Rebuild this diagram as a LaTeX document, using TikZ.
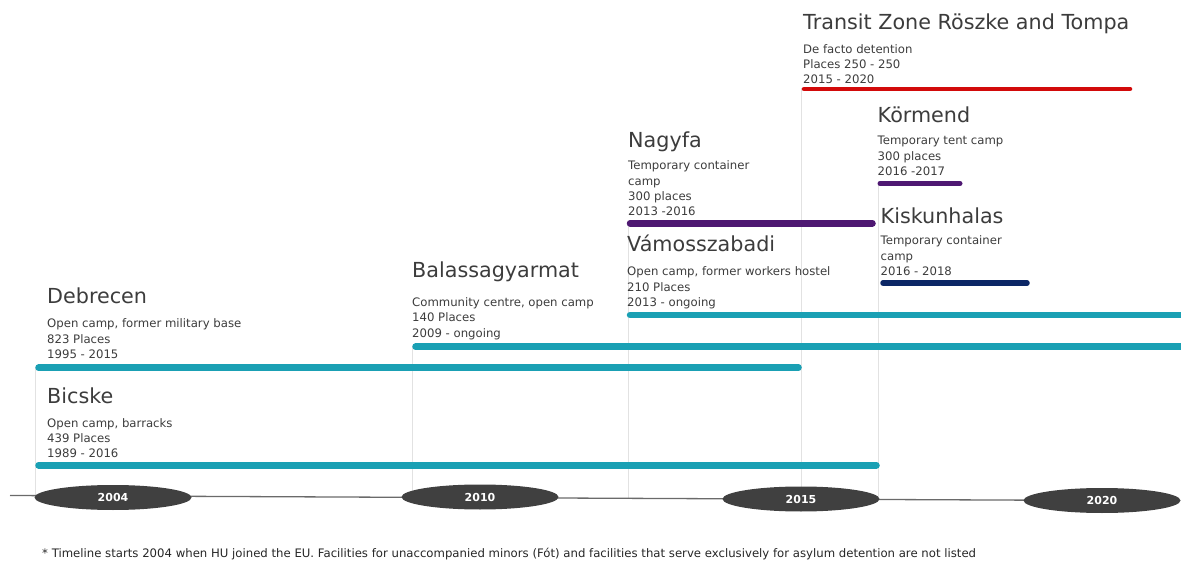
\documentclass[tikz,border=0pt]{standalone}
\usepackage{fontspec}
\setmainfont{DejaVu Sans}
\usetikzlibrary{shapes.geometric}
\definecolor{tealc}{HTML}{1AA0B4}
\definecolor{purplec}{HTML}{4E1872}
\definecolor{redc}{HTML}{D20A0A}
\definecolor{navyc}{HTML}{0C2766}
\definecolor{textc}{HTML}{3C3C3C}
\definecolor{ellc}{HTML}{404040}
\definecolor{linec}{HTML}{6A6A6A}
\definecolor{guidec}{HTML}{E2E2E2}
\newcommand\facility[6]{%
  \node[ftitle] (#1-t) at (#2,#3) {#4};
  \foreach \l [count=\i] in {#6} {\node[fbody] (#1-\i) at (#2,{#5+15.3*(\i-1)}) {\l};}
}
\begin{document}
\begin{tikzpicture}[x=1pt,y=-1pt,
  ftitle/.style={anchor=base west,inner sep=0pt,text=textc,font=\fontsize{20.7}{24}\selectfont},
  fbody/.style={anchor=base west,inner sep=0pt,text=textc,font=\fontsize{11.7}{14}\selectfont},
  bar/.style={line width=6.5pt,line cap=round},
  guide/.style={draw=guidec,line width=0.5pt},
  yearell/.style={ellipse,fill=ellc,minimum width=157pt,minimum height=25pt,inner sep=0pt,
    text=white,font=\bfseries\fontsize{11}{13}\selectfont},
  tline/.style={draw=linec,line width=1.3pt}]
\useasboundingbox (0,0) rectangle (1181,561);
\clip (0,0) rectangle (1181,561);
% guide lines
\draw[guide] (35,367) -- (35,497);
\draw[guide] (412,346) -- (412,497);
\draw[guide] (628,222) -- (628,498);
\draw[guide] (801,88) -- (801,499);
\draw[guide] (878,183) -- (878,499);
% timeline
\coordinate (tstart) at (10,495.5);
\coordinate (tend) at (1102,500.5);
\draw[tline] (tstart) -- (tend);
\node[yearell] (y2004) at (113,497.5) {2004};
\node[yearell] (y2010) at (480,497) {2010};
\node[yearell] (y2015) at (801,499) {2015};
\node[yearell] (y2020) at (1102,500.5) {2020};
% bars
\draw[bar,tealc] (38.5,465.3) -- (876.5,465.3);
\draw[bar,tealc] (38.5,367.7) -- (798.5,367.7);
\draw[bar,tealc] (415.5,346.7) -- (1190,346.7);
\draw[bar,tealc] (630,315) -- (1190,315);
\draw[bar,purplec] (630,223.3) -- (872.5,223.3);
\draw[bar,redc,line width=4.5pt] (804,89) -- (1130,89);
\draw[bar,purplec,line width=5pt] (880,183.5) -- (960,183.5);
\draw[bar,navyc,line width=5.5pt] (883,283) -- (1027,283);
% texts
\facility{bic}{47}{403}{Bicske}{427}{{Open camp, barracks},{439 Places},{1989 - 2016}}
\facility{deb}{47}{304}{Debrecen}{328}{{Open camp, former military base},{823 Places},{1995 - 2015}}
\facility{bal}{412}{278}{Balassagyarmat}{306.5}{{Community centre, open camp},{140 Places},{2009 - ongoing}}
\facility{vam}{627}{251.7}{Vámosszabadi}{276}{{Open camp, former workers hostel},{210 Places},{2013 - ongoing}}
\facility{nag}{628}{148}{Nagyfa}{170}{{Temporary container},{camp},{300 places},{2013 -2016}}
\facility{tra}{803}{30}{Transit Zone Röszke and Tompa}{53.3}{{De facto detention},{Places 250 - 250},{2015 - 2020}}
\facility{kor}{877.5}{122.7}{Körmend}{145}{{Temporary tent camp},{300 places},{2016 -2017}}
\facility{kis}{880.5}{223.3}{Kiskunhalas}{245}{{Temporary container},{camp},{2016 - 2018}}
\node[anchor=base west,inner sep=0pt,text=black!85,font=\fontsize{11.7}{13}\selectfont] (note) at (42,557)
  {* Timeline starts 2004 when HU joined the EU. Facilities for unaccompanied minors (Fót) and facilities that serve exclusively for asylum detention are not listed};
\end{tikzpicture}
\end{document}
